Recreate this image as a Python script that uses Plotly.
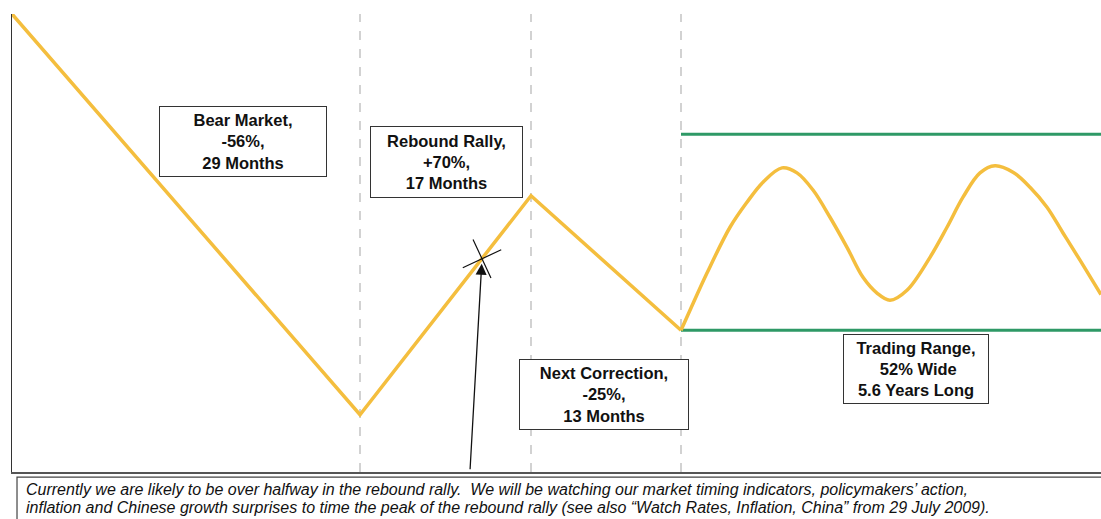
import plotly.graph_objects as go

# ---- data (stylised index path, x in chart time units) ----
path_x = [0.0, 34.8, 51.9, 66.9]
path_y = [100.0, 44.0, 74.6, 55.8]

range_x = [66.9, 67.8, 69.5, 71.8, 73.5, 75.1, 77.0, 78.5, 80.1, 81.8, 83.5,
           85.1, 86.5, 87.8, 89.5, 91.8, 93.5, 95.1, 96.8, 98.3, 100.1, 101.8,
           103.5, 105.1, 106.8, 108.9]
range_y = [55.8, 58.6, 63.8, 70.2, 73.7, 76.5, 78.5, 77.8, 75.4, 71.6, 67.4,
           63.2, 61.0, 60.0, 61.4, 66.0, 70.2, 74.4, 77.8, 78.8, 77.9, 75.8,
           73.0, 69.4, 65.6, 60.8]

band_x = [66.9, 108.9]
band_top = [83.2, 83.2]
band_bottom = [55.8, 55.8]

phase_bounds = [34.8, 51.9, 66.9]

now_x = [47.0]
now_y = [65.8]

label_text = ["Bear Market,<br>-56%,<br>29 Months",
              "Rebound Rally,<br>+70%,<br>17 Months",
              "Next Correction,<br>-25%,<br>13 Months",
              "Trading Range,<br> 52% Wide<br>5.6 Years Long"]
label_x = [23.1, 43.45, 59.2, 90.4]
label_y = [82.2, 79.3, 46.8, 50.4]
label_w = [168, 153, 170, 146]
label_h = [71, 72, 71, 70]

note_lines = [
    "Currently we are likely to be over halfway in the rebound rally.  We will be watching our market timing indicators, policymakers\u2019 action,",
    "inflation and Chinese growth surprises to time the peak of the rebound rally (see also \u201cWatch Rates, Inflation, China\u201d from 29 July 2009).",
]

YELLOW = "#F4BE3E"
GREEN = "#2E9966"

fig = go.Figure()

for xb in phase_bounds:
    fig.add_shape(type="line", x0=xb, x1=xb, y0=0, y1=1, xref="x", yref="paper",
                  line=dict(color="#C4C4C4", width=1.5, dash="dash"), layer="below")

fig.add_trace(go.Scatter(x=band_x, y=band_top, mode="lines",
                         line=dict(color=GREEN, width=3), hoverinfo="skip"))
fig.add_trace(go.Scatter(x=band_x, y=band_bottom, mode="lines",
                         line=dict(color=GREEN, width=3), hoverinfo="skip"))
fig.add_trace(go.Scatter(x=path_x, y=path_y, mode="lines",
                         line=dict(color=YELLOW, width=3.5), hoverinfo="skip"))
fig.add_trace(go.Scatter(x=range_x, y=range_y, mode="lines",
                         line=dict(color=YELLOW, width=3.5, shape="spline", smoothing=1),
                         hoverinfo="skip"))
fig.add_trace(go.Scatter(x=now_x, y=now_y, mode="markers",
                         marker=dict(symbol="x-thin", size=30, angle=20,
                                     line=dict(color="#111111", width=1.2)),
                         hoverinfo="skip"))

for text, lx, ly, w, h in zip(label_text, label_x, label_y, label_w, label_h):
    fig.add_annotation(x=lx, y=ly, xref="x", yref="y", text=text, showarrow=False,
                       font=dict(family="Liberation Sans, Arial", size=16.5, color="#111111", weight="bold"),
                       bordercolor="#333333", borderwidth=1, borderpad=0,
                       width=w - 2, height=h - 2, valign="middle",
                       bgcolor="white", align="center")

# arrow to "we are here"
fig.add_annotation(x=now_x[0], y=now_y[0], xref="x", yref="y", text="",
                   showarrow=True, arrowhead=2, arrowsize=1.7, arrowwidth=1.3,
                   arrowcolor="#111111", ax=-12, ay=212, standoff=5)

# bottom note box
fig.add_shape(type="rect", xref="paper", yref="paper", x0=0.0046, x1=1.05,
              y0=-0.011, y1=-0.3, line=dict(color="#444444", width=1.2),
              fillcolor="rgba(0,0,0,0)", layer="above")
for i, line in enumerate(note_lines):
    fig.add_annotation(xref="paper", yref="paper", x=0.0115, y=-0.0382 - i * 0.0404,
                       xanchor="left", yanchor="middle", text=line, showarrow=False,
                       align="left", borderpad=0,
                       font=dict(family="Liberation Sans, Arial", size=16, color="#111111",
                                 style="italic"))

fig.update_layout(
    width=1101, height=519,
    margin=dict(l=12, r=0, t=14, b=47),
    paper_bgcolor="white", plot_bgcolor="white",
    showlegend=False,
    xaxis=dict(range=[0, 108.9], showgrid=False, zeroline=False, showticklabels=False,
               ticks="", showline=True, linecolor="#555555", linewidth=2),
    yaxis=dict(range=[36, 100], showgrid=False, zeroline=False, showticklabels=False,
               ticks="", showline=True, linecolor="#333333", linewidth=1),
)

fig.write_html("out.html")
